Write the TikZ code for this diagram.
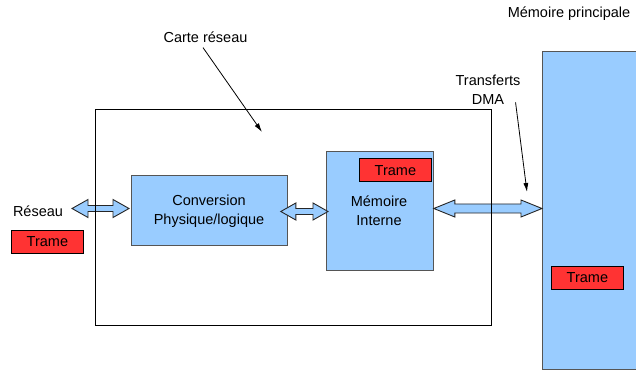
\documentclass[tikz,border=0pt]{standalone}
\usepackage{fontspec}
\setmainfont{Liberation Sans}
\usetikzlibrary{arrows.meta,calc}

\definecolor{paleblue}{HTML}{99CCFF}
\definecolor{framered}{HTML}{FF3333}
\definecolor{edgegray}{HTML}{555555}

% Block double arrow between two tips: #1 left tip, #2 right tip,
% #3 head length, #4 half head height, #5 half shaft height
\newcommand\blockarrow[5]{%
  \draw[dualarrow] let \p1=#1, \p2=#2 in
    (\x1,\y1) -- (\x1+#3pt,\y1+#4pt) -- (\x1+#3pt,\y1+#5pt)
    -- (\x2-#3pt,\y1+#5pt) -- (\x2-#3pt,\y1+#4pt) -- (\x2,\y1)
    -- (\x2-#3pt,\y1-#4pt) -- (\x2-#3pt,\y1-#5pt)
    -- (\x1+#3pt,\y1-#5pt) -- (\x1+#3pt,\y1-#4pt) -- cycle;}

\begin{document}
\begin{tikzpicture}[x=1pt,y=-1pt,
  every node/.style={font=\fontsize{14.5}{19}\selectfont, inner sep=0pt},
  bluebox/.style={draw=edgegray, fill=paleblue, line width=0.8pt, anchor=north west},
  framebox/.style={draw=black, fill=framered, line width=0.8pt, anchor=north west,
    minimum width=72pt, minimum height=23.5pt},
  dualarrow/.style={draw=black!85, fill=paleblue, line width=0.9pt, line join=miter},
  pointer/.style={draw=black, line width=0.8pt, -{Latex[length=9pt,width=5pt]}},
  label/.style={align=center}]

\clip (0,0) rectangle (636,371);
\fill[white] (0,0) rectangle (636,371);

% main memory column, running off the right edge
\node[bluebox, minimum width=100pt, minimum height=318pt] (ram) at (542,51) {};
\node[framebox] (ramframe) at (551,265.5) {};
\node at (ramframe.center) {Trame};
\node[label] (ramlabel) at (569,14) {Mémoire principale};

% blocks of the network card
\node[bluebox, minimum width=156pt, minimum height=70pt] (conv) at (131,175) {};
\node[label] at (209,211.5) {Conversion\\Physique/logique};
\node[bluebox, minimum width=107pt, minimum height=119pt] (mem) at (326,151) {};
\node[label] at (379,210.5) {Mémoire\\Interne};
\node[framebox] (memframe) at (359,158) {};
\node at (memframe.center) {Trame};

% network side
\node (net) at (38,211) {Réseau};
\node[framebox] (netframe) at (11,229.5) {};
\node at (netframe.center) {Trame};

% data paths
\coordinate (netend) at (72,208.5);
\blockarrow{(netend)}{($(conv.west |- netend)+(-2,0)$)}{16}{9}{3}
\coordinate (midy) at (0,211.5);
\blockarrow{($(conv.east |- midy)+(-7,0)$)}{($(mem.west |- midy)+(2,0)$)}{15}{8.5}{3}
\coordinate (dmay) at (0,208.5);
\blockarrow{(mem.east |- dmay)}{(ram.west |- dmay)}{21}{8.5}{4.5}

% outline of the card
\node[draw=black, line width=0.9pt, anchor=north west,
  minimum width=396pt, minimum height=216pt] (card) at (95,109) {};

% annotations
\node[label] (cardlabel) at (205.5,37) {Carte réseau};
\coordinate (cardtip) at (262,132);
\draw[pointer] ($(cardlabel.south)+(-2.5,5)$) -- (cardtip);

\node[label] (dmalabel) at (488,89.5) {Transferts\\DMA};
\coordinate (dmatip) at (527,192);
\draw[pointer] ($(dmalabel.south east)+(-5,-2)$) -- (dmatip);
\end{tikzpicture}
\end{document}
